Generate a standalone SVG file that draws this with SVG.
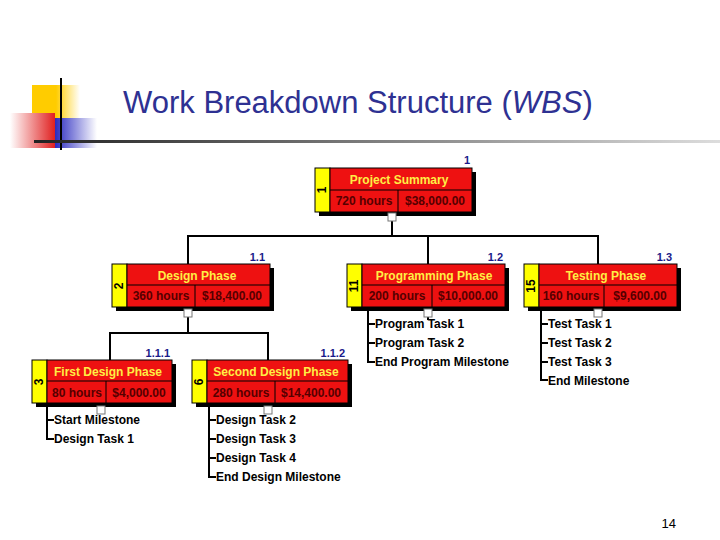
<svg xmlns="http://www.w3.org/2000/svg" width="720" height="540" viewBox="0 0 720 540">
<defs>
<linearGradient id="hl" x1="0" x2="1"><stop offset="0" stop-color="#222"/><stop offset="1" stop-color="#ddd"/></linearGradient>
<linearGradient id="rd" x1="1" x2="0"><stop offset="0" stop-color="#e02020"/><stop offset="1" stop-color="#fff"/></linearGradient>
<linearGradient id="bl" x1="0" x2="1"><stop offset="0" stop-color="#2a2ac0"/><stop offset="1" stop-color="#fff"/></linearGradient>
<linearGradient id="yl" x1="0" x2="1"><stop offset="0.5" stop-color="#ffcc00"/><stop offset="1" stop-color="#fff"/></linearGradient>
</defs>
<style>
.sh{fill:#000}.tab{fill:#ffff00;stroke:#000;stroke-width:1}.box{fill:#ee1111;stroke:#000;stroke-width:1}
.t{font-family:"Liberation Sans",Arial,sans-serif;font-weight:bold;font-size:12px}
.hd{fill:#ffee44;text-anchor:middle}.dt{fill:#550000;text-anchor:middle;font-size:12px}
.id{fill:#000;text-anchor:middle}.wl{fill:#1a1a8a;text-anchor:end;font-size:11px}
.c{fill:none;stroke:#000;stroke-width:2}.mn{fill:#fff;stroke:#777;stroke-width:1}
.li{fill:#000;font-size:12px}
</style>
<rect x="32" y="85" width="48" height="45" fill="url(#yl)"/>
<rect x="55" y="118" width="42" height="30" fill="url(#bl)"/>
<rect x="10" y="113" width="45" height="35" fill="url(#rd)"/>
<line x1="61" y1="78" x2="61" y2="150" stroke="#000" stroke-width="2"/>
<rect x="34" y="140" width="686" height="3" fill="url(#hl)"/>
<text x="123" y="113" font-family="Liberation Sans,Arial,sans-serif" font-size="31" fill="#2e3192">Work Breakdown Structure (<tspan font-style="italic">WBS</tspan>)</text>
<g id="connectors">
<path class="c" d="M392 213V236M188 264V236H598V264M428 236V264M188 313V333M110 360V333H268V360M428 313V320"/>
<path class="c" d="M368 311V362H375M368 324H375M368 343H375"/>
<path class="c" d="M541 311V380H548M541 324H548M541 343H548M541 362H548"/>
<path class="c" d="M47 405V439H54M47 420H54"/>
<path class="c" d="M209 405V477H216M209 420H216M209 439H216M209 458H216"/>
</g>
<g id="n1"><rect class="sh" x="319" y="172" width="157" height="44"/><rect class="tab" x="315" y="168" width="15" height="44"/><rect class="box" x="330" y="168" width="142" height="44"/><line x1="330" y1="190" x2="472" y2="190" stroke="#000"/><line x1="398" y1="190" x2="398" y2="212" stroke="#000"/>
<text class="t hd" x="399" y="184">Project Summary</text><text class="t dt" x="364" y="205">720 hours</text><text class="t dt" x="435" y="205">$38,000.00</text><text class="t id" transform="translate(326,190) rotate(-90)">1</text><text class="t wl" x="470" y="164">1</text><rect class="mn" x="388" y="213" width="8" height="8"/></g>
<g id="n11"><rect class="sh" x="116" y="268" width="158" height="43"/><rect class="tab" x="112" y="264" width="15" height="43"/><rect class="box" x="127" y="264" width="143" height="43"/><line x1="127" y1="285" x2="270" y2="285" stroke="#000"/><line x1="195" y1="285" x2="195" y2="307" stroke="#000"/>
<text class="t hd" x="197" y="280">Design Phase</text><text class="t dt" x="161" y="300">360 hours</text><text class="t dt" x="232" y="300">$18,400.00</text><text class="t id" transform="translate(123,286) rotate(-90)">2</text><text class="t wl" x="265" y="261">1.1</text><rect class="mn" x="184" y="309" width="8" height="8"/></g>
<g id="n12"><rect class="sh" x="351" y="268" width="158" height="43"/><rect class="tab" x="347" y="264" width="15" height="43"/><rect class="box" x="362" y="264" width="143" height="43"/><line x1="362" y1="285" x2="505" y2="285" stroke="#000"/><line x1="432" y1="285" x2="432" y2="307" stroke="#000"/>
<text class="t hd" x="434" y="280">Programming Phase</text><text class="t dt" x="397" y="300">200 hours</text><text class="t dt" x="468" y="300">$10,000.00</text><text class="t id" transform="translate(358,286) rotate(-90)">11</text><text class="t wl" x="503" y="261">1.2</text><rect class="mn" x="424" y="309" width="8" height="8"/></g>
<g id="n13"><rect class="sh" x="528" y="268" width="153" height="43"/><rect class="tab" x="524" y="264" width="15" height="43"/><rect class="box" x="539" y="264" width="138" height="43"/><line x1="539" y1="285" x2="677" y2="285" stroke="#000"/><line x1="604" y1="285" x2="604" y2="307" stroke="#000"/>
<text class="t hd" x="606" y="280">Testing Phase</text><text class="t dt" x="571" y="300">160 hours</text><text class="t dt" x="640" y="300">$9,600.00</text><text class="t id" transform="translate(535,286) rotate(-90)">15</text><text class="t wl" x="672" y="261">1.3</text><rect class="mn" x="594" y="309" width="8" height="8"/></g>
<g id="n111"><rect class="sh" x="36" y="364" width="140" height="43"/><rect class="tab" x="32" y="360" width="15" height="43"/><rect class="box" x="47" y="360" width="125" height="43"/><line x1="47" y1="381" x2="172" y2="381" stroke="#000"/><line x1="106" y1="381" x2="106" y2="403" stroke="#000"/>
<text class="t hd" x="108" y="376">First Design Phase</text><text class="t dt" x="77" y="397">80 hours</text><text class="t dt" x="139" y="397">$4,000.00</text><text class="t id" transform="translate(43,382) rotate(-90)">3</text><text class="t wl" x="170" y="357">1.1.1</text><rect class="mn" x="97" y="406" width="8" height="8"/></g>
<g id="n112"><rect class="sh" x="196" y="364" width="156" height="43"/><rect class="tab" x="192" y="360" width="15" height="43"/><rect class="box" x="207" y="360" width="141" height="43"/><line x1="207" y1="381" x2="348" y2="381" stroke="#000"/><line x1="275" y1="381" x2="275" y2="403" stroke="#000"/>
<text class="t hd" x="276" y="376">Second Design Phase</text><text class="t dt" x="241" y="397">280 hours</text><text class="t dt" x="311" y="397">$14,400.00</text><text class="t id" transform="translate(203,382) rotate(-90)">6</text><text class="t wl" x="345" y="357">1.1.2</text><rect class="mn" x="264" y="406" width="8" height="8"/></g>
<g id="lists" class="t li">
<text x="375" y="328">Program Task 1</text><text x="375" y="347">Program Task 2</text><text x="375" y="366">End Program Milestone</text>
<text x="548" y="328">Test Task 1</text><text x="548" y="347">Test Task 2</text><text x="548" y="366">Test Task 3</text><text x="548" y="385">End Milestone</text>
<text x="54" y="424">Start Milestone</text><text x="54" y="443">Design Task 1</text>
<text x="216" y="424">Design Task 2</text><text x="216" y="443">Design Task 3</text><text x="216" y="462">Design Task 4</text><text x="216" y="481">End Design Milestone</text>
</g>
<text x="676" y="528" font-family="Liberation Sans,Arial,sans-serif" font-size="13" text-anchor="end">14</text>
</svg>
